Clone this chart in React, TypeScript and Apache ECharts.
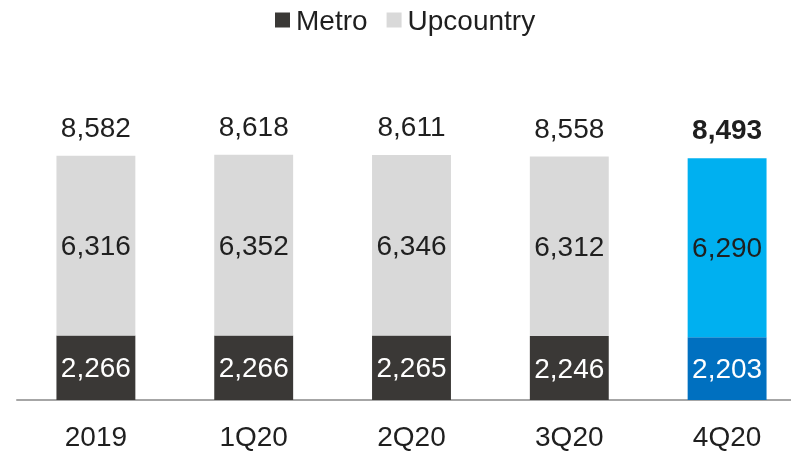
import React, { useEffect, useRef } from "react";
import * as echarts from "echarts";

const categories = ["2019", "1Q20", "2Q20", "3Q20", "4Q20"];
const metro = [2266, 2266, 2265, 2246, 2203];
const upcountry = [6316, 6352, 6346, 6312, 6290];
const totals = [8582, 8618, 8611, 8558, 8493];

const metroColors = ["#3a3836", "#3a3836", "#3a3836", "#3a3836", "#0070c0"];
const upColors = ["#d9d9d9", "#d9d9d9", "#d9d9d9", "#d9d9d9", "#00b0f0"];

const FONT = "'Liberation Sans', Arial, Helvetica, sans-serif";
const TXT = "#1f1f1f";
const FS = 28;

export default function App() {
  const ref = useRef<HTMLDivElement>(null);
  useEffect(() => {
    document.body.style.margin = "0";
    const chart = echarts.init(ref.current!, null, { renderer: "svg" });
    const last = categories.length - 1;
    chart.setOption({
      animation: false,
      textStyle: { fontFamily: FONT },
      legend: {
        data: ["Metro", "Upcountry"],
        top: 1,
        left: 270,
        icon: "rect",
        itemWidth: 15,
        itemHeight: 15,
        itemGap: 19,
        textStyle: { fontFamily: FONT, fontSize: FS, color: TXT, padding: [0, 0, 0, 1] },
      },
      grid: {
        left: 17,
        width: 789,
        top: 115.5,
        bottom: 52,
        containLabel: false,
        outerBoundsMode: "none",
      },
      xAxis: {
        type: "category",
        data: categories,
        axisLine: { show: true, lineStyle: { color: "#a6a6a6", width: 2 } },
        axisTick: { show: false },
        axisLabel: { fontFamily: FONT, fontSize: FS, color: TXT, margin: 22 },
      },
      yAxis: {
        type: "value",
        min: 0,
        max: 10000,
        show: false,
        splitLine: { show: false },
      },
      series: [
        {
          name: "Metro",
          type: "bar",
          stack: "t",
          barWidth: "50%",
          itemStyle: { color: metroColors[0] },
          label: {
            show: true,
            position: "inside",
            color: "#ffffff",
            fontFamily: FONT,
            fontSize: FS,
            formatter: (p: any) => p.value.toLocaleString("en-US"),
          },
          data: metro.map((v, i) => ({ value: v, itemStyle: { color: metroColors[i] } })),
        },
        {
          name: "Upcountry",
          type: "bar",
          stack: "t",
          barWidth: "50%",
          itemStyle: { color: upColors[0] },
          label: {
            show: true,
            position: "inside",
            color: TXT,
            fontFamily: FONT,
            fontSize: FS,
            formatter: (p: any) => p.value.toLocaleString("en-US"),
          },
          data: upcountry.map((v, i) => ({ value: v, itemStyle: { color: upColors[i] } })),
        },
        {
          name: "Total",
          type: "scatter",
          symbolSize: 1,
          itemStyle: { color: "rgba(0,0,0,0)", opacity: 1 },
          label: {
            show: true,
            position: "top",
            distance: 14,
            color: TXT,
            opacity: 1,
            fontFamily: FONT,
            fontSize: FS,
            formatter: (p: any) => p.value.toLocaleString("en-US"),
          },
          data: totals.map((v, i) =>
            i === last ? { value: v, label: { fontWeight: "bold" } } : { value: v }
          ),
        },
      ],
    });
    return () => chart.dispose();
  }, []);
  return <div ref={ref} style={{ position: "fixed", left: 0, top: 0, width: 791, height: 452 }} />;
}
